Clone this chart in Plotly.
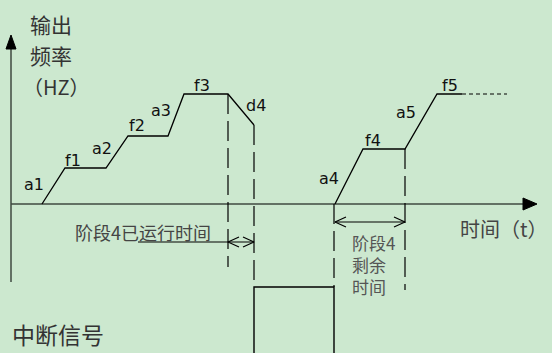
import plotly.graph_objects as go

# time / frequency units: origin at the axes crossing
# first run: a1 f1 a2 f2 a3 f3 then d4 (decel when interrupted)
run1_t = [31, 54, 95, 117, 157, 173, 217, 243]
run1_f = [0, 36, 36, 68, 68, 110, 110, 79]
# resumed run: a4 f4 a5 f5
run2_t = [324, 352, 394, 426, 451]
run2_f = [0, 55, 55, 110, 110]
f5_tail_t = [451, 496]

# dashed markers: time, top, bottom
guide_t = [217, 243, 323, 394]
guide_top = [110, 79, 0, 55]
guide_bottom = [-63, -83, -83, -86]

# interrupt signal pulse
pulse_t = [243, 323]
pulse_level = -83

# elapsed / remaining spans
elapsed_span = [217, 243]
elapsed_line_start = 127
elapsed_level = -38
remain_span = [324, 394]
remain_level = -18

seg_labels = ["a1", "f1", "a2", "f2", "a3", "f3", "d4", "a4", "f4", "a5", "f5"]
seg_label_t = [23, 62, 91, 126, 150, 191, 245, 318, 362, 395, 439]
seg_label_f = [20, 44, 56, 79, 94, 119, 99, 26, 64, 92, 119]

axis_x_end = 526
axis_y_top = 169
axis_y_bottom = -78

AX = "#3f4a40"
BG = "#cce8cf"
CJK = "Noto Sans CJK SC"

fig = go.Figure()

def line(x, y, color="black", width=1.3, dash=None):
    fig.add_trace(go.Scatter(x=x, y=y, mode="lines", hoverinfo="skip",
                             line=dict(color=color, width=width, dash=dash)))

# axes
line([0, 0], [axis_y_bottom, axis_y_top - 12], AX, 1.5)
line([0, axis_x_end - 12], [0, 0], AX, 1.3)
fig.add_trace(go.Scatter(x=[-5, 5, 0, -5], y=[axis_y_top - 14, axis_y_top - 14, axis_y_top, axis_y_top - 14],
                         fill="toself", fillcolor="black", mode="lines",
                         line=dict(color="black", width=1), hoverinfo="skip"))
fig.add_trace(go.Scatter(x=[axis_x_end - 14, axis_x_end - 14, axis_x_end, axis_x_end - 14], y=[-6, 6, 0, -6],
                         fill="toself", fillcolor="black", mode="lines",
                         line=dict(color="black", width=1), hoverinfo="skip"))

# frequency profiles
line(run1_t, run1_f)
line(run2_t, run2_f)
line(f5_tail_t, [run2_f[-1]] * 2, width=1.2, dash="4px,3px")

# dashed guides
for t, a, b in zip(guide_t, guide_top, guide_bottom):
    line([t, t], [a, b], width=1.2, dash="20px,7px")

# interrupt pulse
line([pulse_t[0], pulse_t[0], pulse_t[1], pulse_t[1]], [-160, pulse_level, pulse_level, -160], width=1.4)

# span arrows with open heads
def span(t0, t1, lvl, start=None):
    line([start if start is not None else t0, t1], [lvl, lvl], width=1.2)
    line([t0 + 11, t0, t0 + 11], [lvl + 5, lvl, lvl - 5], width=1.2)
    line([t1 - 11, t1, t1 - 11], [lvl + 5, lvl, lvl - 5], width=1.2)

span(elapsed_span[0], elapsed_span[1], elapsed_level, elapsed_line_start)
span(remain_span[0], remain_span[1], remain_level)

for s, x, y in zip(seg_labels, seg_label_t, seg_label_f):
    fig.add_annotation(x=x, y=y, text=s, showarrow=False,
                       font=dict(family="DejaVu Sans", size=16, color="#111"))

texts = [
    ("输出", 17, 180, 21, "#333"),
    ("频率", 17, 149, 21, "#333"),
    ("（HZ）", 10, 118, 20, "#333"),
    ("中断信号", -1, -130, 23, "#333"),
    ("阶段4已运行时间", 62, -28, 18, "#444"),
    ("时间（t）", 447, -24, 20, "#444"),
    ("阶段4<br>剩余<br>时间", 339, -60, 17, "#555"),
]
for s, x, y, sz, c in texts:
    fig.add_annotation(x=x, y=y, text=s, showarrow=False, xanchor="left", align="left",
                       font=dict(family=CJK, size=sz, color=c))

fig.update_xaxes(range=[-11, 541], visible=False)
fig.update_yaxes(range=[-149, 204], visible=False)
fig.update_layout(width=552, height=353, margin=dict(l=0, r=0, t=0, b=0),
                  paper_bgcolor=BG, plot_bgcolor=BG, showlegend=False)

fig.write_html("out.html", config={"displayModeBar": False},
               post_script="document.body.style.margin='0';document.body.style.background='%s';" % BG)
